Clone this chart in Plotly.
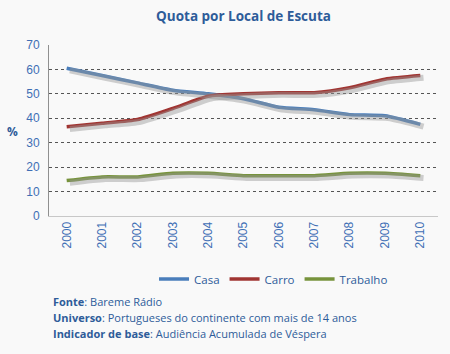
import plotly.graph_objects as go

years = ["2000", "2001", "2002", "2003", "2004", "2005", "2006", "2007", "2008", "2009", "2010"]
casa = [60.5, 57.5, 54.5, 51.5, 50, 48, 44.5, 43.5, 41.5, 41, 37.5]
carro = [36.5, 38, 39.5, 44, 49, 50, 50.5, 50.5, 52.5, 56, 57.5]
trabalho = [14.5, 16, 16, 17.5, 17.5, 16.5, 16.5, 16.5, 17.5, 17.5, 16.5]

series = [("Casa", casa, "#4A7EBB"), ("Carro", carro, "#A03532"), ("Trabalho", trabalho, "#77933C")]

fig = go.Figure()
xi = list(range(len(years)))
# shadows on an overlay axis shifted slightly
for name, vals, col in series:
    fig.add_trace(go.Scatter(x=xi, y=vals, mode="lines", xaxis="x2", yaxis="y2",
                             line=dict(color="rgba(150,150,150,0.45)", width=6, shape="spline", smoothing=0.6),
                             showlegend=False, hoverinfo="skip"))
for name, vals, col in series:
    fig.add_trace(go.Scatter(x=xi, y=vals, mode="lines", name=name,
                             line=dict(color=col, width=3.5, shape="spline", smoothing=0.6)))

tickc = "#3F6FB5"
fig.update_layout(
    width=450, height=354,
    paper_bgcolor="#F9F9F9", plot_bgcolor="#F9F9F9",
    margin=dict(l=49, r=12, t=45, b=138),
    title=dict(text="<b>Quota por Local de Escuta</b>", xref="paper", x=0.5, xanchor="center", y=0.955, yanchor="middle",
               font=dict(family="Open Sans, Liberation Sans, sans-serif", size=13.5, color="#2E5C99")),
    font=dict(family="Liberation Sans, DejaVu Sans, sans-serif", color=tickc),
    xaxis=dict(range=[-0.5, 10.5], tickmode="array", tickvals=xi, ticktext=years, tickangle=-90,
               showgrid=False, zeroline=False, showline=True, linecolor="#C8C8C8", linewidth=1,
               tickfont=dict(size=12, color=tickc), ticks=""),
    yaxis=dict(range=[0, 70], dtick=10, showgrid=True, gridcolor="#555555", griddash="dot", gridwidth=1,
               zeroline=False, showline=True, linecolor="#909090", linewidth=1,
               tickfont=dict(size=12, color=tickc), ticks="", ticklabelstandoff=6),
    xaxis2=dict(range=[-0.5 - 0.09, 10.5 - 0.09], overlaying="x", visible=False),
    yaxis2=dict(range=[0 + 0.9, 70 + 0.9], overlaying="y", visible=False),
    legend=dict(orientation="h", x=0.27, y=(216 - 279) / 171, xanchor="left", yanchor="middle",
                font=dict(family="Open Sans, Liberation Sans, sans-serif", size=11.5, color="#2E5C99"),
                bgcolor="rgba(0,0,0,0)", itemwidth=30, traceorder="normal"),
    showlegend=True,
)

notes = [("Fonte", ": Bareme Rádio"),
         ("Universo", ": Portugueses do continente com mais de 14 anos"),
         ("Indicador de base", ": Audiência Acumulada de Véspera")]
for i, (b, t) in enumerate(notes):
    fig.add_annotation(text=f"<b>{b}</b>{t}", xref="paper", yref="paper", x=0.005, xanchor="left",
                       y=(216 - (301 + 16 * i)) / 171, yanchor="middle", showarrow=False,
                       font=dict(family="Open Sans, Liberation Sans, sans-serif", size=11, color="#2E5C99"))
fig.add_annotation(text="<b>%</b>", xref="paper", yref="paper", x=(12 - 49) / 389, xanchor="center",
                   y=(216 - 131) / 171, yanchor="middle", showarrow=False,
                   font=dict(family="Open Sans, Liberation Sans, sans-serif", size=12, color="#2E5C99"))

fig.write_html("out.html")
